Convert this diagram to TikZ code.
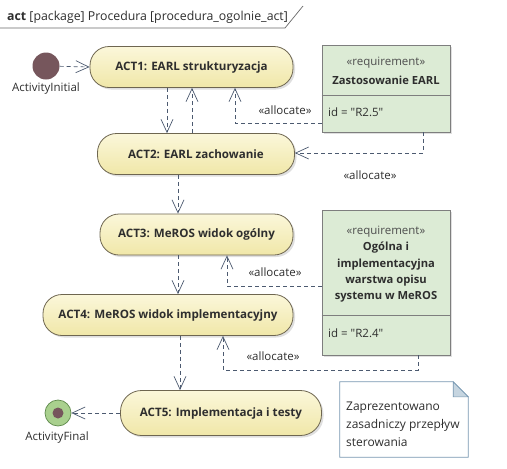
\documentclass[tikz,border=0pt]{standalone}
\usepackage{fontspec}
\setmainfont{Open Sans}
\newfontfamily\plainfont{Open Sans}[Ligatures=TeXOff]
\usetikzlibrary{arrows.meta,shadows,calc}
\definecolor{actfillA}{HTML}{FBF7DA}
\definecolor{actfillB}{HTML}{F0E7A8}
\definecolor{actborder}{HTML}{6E6650}
\definecolor{reqfill}{HTML}{DCEBD5}
\definecolor{reqborder}{HTML}{7E7E7E}
\definecolor{linec}{HTML}{4C5A70}
\definecolor{textc}{HTML}{2E2E2E}
\definecolor{initc}{HTML}{76565C}
\definecolor{finring}{HTML}{A9D08E}
\definecolor{finborder}{HTML}{5F8A4C}
\definecolor{noteborder}{HTML}{7898B2}
\definecolor{notefold}{HTML}{C6D5E0}
\definecolor{framec}{HTML}{6A6A6A}
\begin{document}
\begin{tikzpicture}[x=1pt,y=-1pt,
  actbox/.style={draw=actborder, top color=actfillA, bottom color=actfillB, rounded corners=19pt,
    minimum height=41pt, line width=0.8pt, font=\bfseries\fontsize{11.6}{13}\selectfont, text=textc,
    drop shadow={shadow xshift=2pt, shadow yshift=-2pt, opacity=0.25}},
  reqbox/.style={draw=reqborder, fill=reqfill, line width=0.8pt, minimum width=128pt,
    drop shadow={shadow xshift=2pt, shadow yshift=-2pt, opacity=0.25}},
  lbl/.style={font=\fontsize{11.5}{13}\selectfont, text=textc, inner sep=0pt},
  flow/.style={draw=linec, line width=0.7pt, dash pattern=on 4pt off 3pt,
    -{Straight Barb[length=13pt,width=12pt,line width=0.7pt]}}
]
\useasboundingbox (0,0) rectangle (507,469);
\fill[white] (0,0) rectangle (507,469);
% frame header
\node[lbl, anchor=base west, font=\fontsize{12.3}{14}\selectfont] (hdr) at (7,20)
  {\textbf{act} [package] Procedura [procedura\_ogolnie\_act]};
\draw[framec, line width=0.7pt] (0,28) coordinate (f0) -- (285,28) coordinate (f1) -- (303,6) coordinate (f2);

% initial / final
\node[circle, fill=initc, minimum size=27pt, inner sep=0pt] (ini) at (46,66) {};
\node[lbl] (inilbl) at (46,89) {ActivityInitial};
\node[circle, draw=finborder, fill=finring, line width=0.7pt, minimum size=26pt, inner sep=0pt] (fin) at (58,413) {};
\node[circle, fill=initc, minimum size=11pt, inner sep=0pt] (findot) at (fin) {};
\node[lbl] (finlbl) at (57,438) {ActivityFinal};

% actions
\node[actbox, minimum width=203pt] (a1) at (191.5,67) {ACT1: EARL strukturyzacja};
\node[actbox, minimum width=197pt] (a2) at (196,154) {ACT2: EARL zachowanie};
\node[actbox, minimum width=193pt] (a3) at (196.5,234.5) {ACT3: MeROS widok ogólny};
\node[actbox, minimum width=250pt] (a4) at (168,315) {ACT4: MeROS widok implementacyjny};
\node[actbox, minimum width=201pt, minimum height=45pt, rounded corners=21pt] (a5) at (221,413) {ACT5: Implementacja i testy};

% requirements
\node[reqbox, minimum height=87pt] (r1) at (386,88.5) {};
\draw[reqborder, line width=0.8pt] (r1.west |- 0,95) -- (r1.east |- 0,95);
\node[lbl, text=textc!85] (r1s) at (386,63) {«requirement»};
\node[lbl, font=\bfseries\fontsize{11.2}{12}\selectfont] (r1n) at (386,80) {Zastosowanie EARL};
\node[lbl, anchor=west, font=\plainfont\fontsize{11.5}{13}\selectfont] (r1id) at (328,112) {id = "R2.5"};

\node[reqbox, minimum height=145pt] (r2) at (386,282.5) {};
\draw[reqborder, line width=0.8pt] (r2.west |- 0,315) -- (r2.east |- 0,315);
\node[lbl, text=textc!85] (r2s) at (386,232) {«requirement»};
\node[lbl, font=\bfseries\fontsize{11.2}{16.3}\selectfont, align=center, anchor=north] (r2n) at (386,242)
  {Ogólna i\\implementacyjna\\warstwa opisu\\systemu w MeROS};
\node[lbl, anchor=west, font=\plainfont\fontsize{11.5}{13}\selectfont] (r2id) at (328,333) {id = "R2.4"};

% note
\node[minimum width=128pt, minimum height=75pt, inner sep=0pt] (note) at (404,419.5) {};
\draw[noteborder, line width=0.8pt, fill=white]
  (note.north west) -- ($(note.north east)+(-15,0)$) -- ($(note.north east)+(0,15)$) -- (note.south east) -- (note.south west) -- cycle;
\draw[noteborder, line width=0.6pt, fill=notefold]
  ($(note.north east)+(-15,0)$) -- ($(note.north east)+(0,15)$) -- ($(note.north east)+(-15,15)$) -- cycle;
\node[lbl, anchor=north west, align=left, font=\fontsize{12}{18}\selectfont] (notetxt) at (346,402)
  {Zaprezentowano\\zasadniczy przepływ\\sterowania};

% flows
\draw[flow] (ini) -- (a1.west);
\draw[flow] (a1.south -| 167,0) -- (a2.north -| 167,0);
\draw[flow] (a2.north -| 192,0) -- (a1.south -| 192,0);
\draw[flow] (a2.south -| 178,0) -- (a3.north -| 178,0);
\draw[flow] (a3.south -| 178,0) -- (a4.north -| 178,0);
\draw[flow] (a4.south -| 180,0) -- (a5.north -| 180,0);
\draw[flow] (a5.west) -- (fin.east);

% allocations
\draw[flow] (r1.west |- 0,123) -- (235,123) -- (a1.south -| 235,0);
\draw[flow] (r1.south -| 423,0) -- (423,153) -- (a2.east |- 0,153);
\draw[flow] (r2.west |- 0,286) -- (227,286) -- (a3.south -| 227,0);
\draw[flow] (r2.south -| 418,0) -- (418,370) -- (223,370) -- (a4.south -| 223,0);

\node[lbl] (al1) at (285,110) {«allocate»};
\node[lbl] (al2) at (370,175) {«allocate»};
\node[lbl] (al3) at (275,272) {«allocate»};
\node[lbl] (al4) at (273,356) {«allocate»};
\end{tikzpicture}
\end{document}
